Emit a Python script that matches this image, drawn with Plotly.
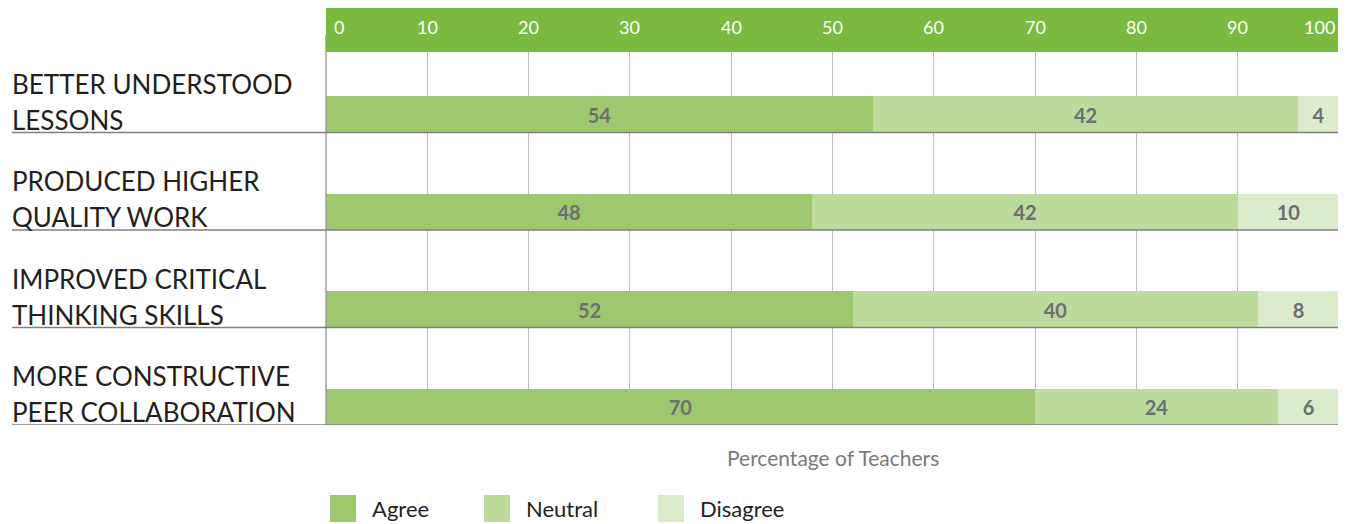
import plotly.graph_objects as go

categories = ["BETTER UNDERSTOOD<br>LESSONS", "PRODUCED HIGHER<br>QUALITY WORK",
              "IMPROVED CRITICAL<br>THINKING SKILLS", "MORE CONSTRUCTIVE<br>PEER COLLABORATION"]
agree = [54, 48, 52, 70]
neutral = [42, 42, 40, 24]
disagree = [4, 10, 8, 6]
series_names = ["Agree", "Neutral", "Disagree"]
tick_vals = [0, 10, 20, 30, 40, 50, 60, 70, 80, 90, 100]
x_title = "Percentage of Teachers"

colors = ["#9dc86f", "#bcdb9c", "#dcebcc"]
header_color = "#7aba41"
OFF = 8  # browser default body margin
W, H = 1346 - OFF, 524 - OFF
ML, MR, MT, MB = 326 - OFF, 7, 35 - OFF, 99
PW, PH = W - ML - MR, H - MT - MB

def px_x(x):
    return (x - OFF - ML) / PW

def px_y(y):
    return 1 - (y - OFF - MT) / PH

fig = go.Figure()
for name, vals, col in zip(series_names, [agree, neutral, disagree], colors):
    fig.add_trace(go.Bar(
        y=list(range(len(categories))), x=vals, name=name, orientation="h",
        marker=dict(color=col, line=dict(width=0)),
        width=0.37, offset=0.13,
        text=vals, texttemplate="<b>%{x}</b>", textposition="inside",
        insidetextanchor="middle", constraintext="none",
        textfont=dict(family="Lato", size=20, color="#6d6e70"),
        showlegend=False, hoverinfo="skip",
    ))

shapes = []
annotations = []
# borders
shapes.append(dict(type="line", xref="paper", yref="paper", x0=0, x1=0, y0=0, y1=1,
                   line=dict(color="#8a8a8a", width=1.2)))
shapes.append(dict(type="line", xref="paper", yref="paper", x0=1, x1=1, y0=0, y1=1,
                   line=dict(color="#8a8a8a", width=1.2)))
# header band
shapes.append(dict(type="rect", xref="paper", yref="paper", x0=0, x1=1,
                   y0=px_y(52), y1=px_y(8), fillcolor=header_color, line=dict(width=0), layer="above"))
for t in tick_vals:
    if t == tick_vals[0]:
        xa, xs = "left", 6
    elif t == tick_vals[-1]:
        xa, xs = "right", -2
    else:
        xa, xs = "center", 0
    annotations.append(dict(x=t, xref="x", y=px_y(27), yref="paper", text=str(t),
                            showarrow=False, xanchor=xa, xshift=xs, yanchor="middle",
                            font=dict(family="Lato", size=18, color="white")))
# row separators and labels (two lines each, spaced like the reference)
for i, c in enumerate(categories):
    shapes.append(dict(type="line", xref="paper", yref="y", x0=px_x(12), x1=1,
                       y0=i + 0.5, y1=i + 0.5, line=dict(color="#7f7f7f", width=1.3), layer="above"))
    lines = c.split("<br>")
    for j, ln in enumerate(reversed(lines)):
        annotations.append(dict(x=px_x(10), xref="paper", y=i + 0.5, yref="y", text=ln,
                                showarrow=False, xanchor="left", yanchor="bottom", align="left",
                                yshift=-5 + 36 * j,
                                font=dict(family="Lato", size=26, color="#231f20")))
# x title
annotations.append(dict(x=px_x(833), xref="paper", y=px_y(457), yref="paper", text=x_title,
                        showarrow=False, xanchor="center", yanchor="middle",
                        font=dict(family="Lato", size=21, color="#7a7a7a")))
# legend
legend_x = [330, 484, 658]
for name, col, lx in zip(series_names, colors, legend_x):
    shapes.append(dict(type="rect", xref="paper", yref="paper", x0=px_x(lx), x1=px_x(lx + 26),
                       y0=px_y(522), y1=px_y(495), fillcolor=col, line=dict(width=0)))
    annotations.append(dict(x=px_x(lx + 40), xref="paper", y=px_y(509), yref="paper", text=name,
                            showarrow=False, xanchor="left", yanchor="middle",
                            font=dict(family="Lato", size=22, color="#231f20")))

fig.update_layout(
    width=W, height=H, margin=dict(l=ML, r=MR, t=MT, b=MB),
    paper_bgcolor="white", plot_bgcolor="white",
    barmode="stack", bargap=0,
    showlegend=False,
    xaxis=dict(range=[0, 100], tickvals=tick_vals, showticklabels=False, showgrid=True,
               gridcolor="#bdbdbd", gridwidth=1, zeroline=False, fixedrange=True),
    yaxis=dict(range=[len(categories) - 0.5, -0.5], showticklabels=False, showgrid=False,
               zeroline=False, fixedrange=True),
    shapes=shapes, annotations=annotations,
)
fig.write_html("out.html")
